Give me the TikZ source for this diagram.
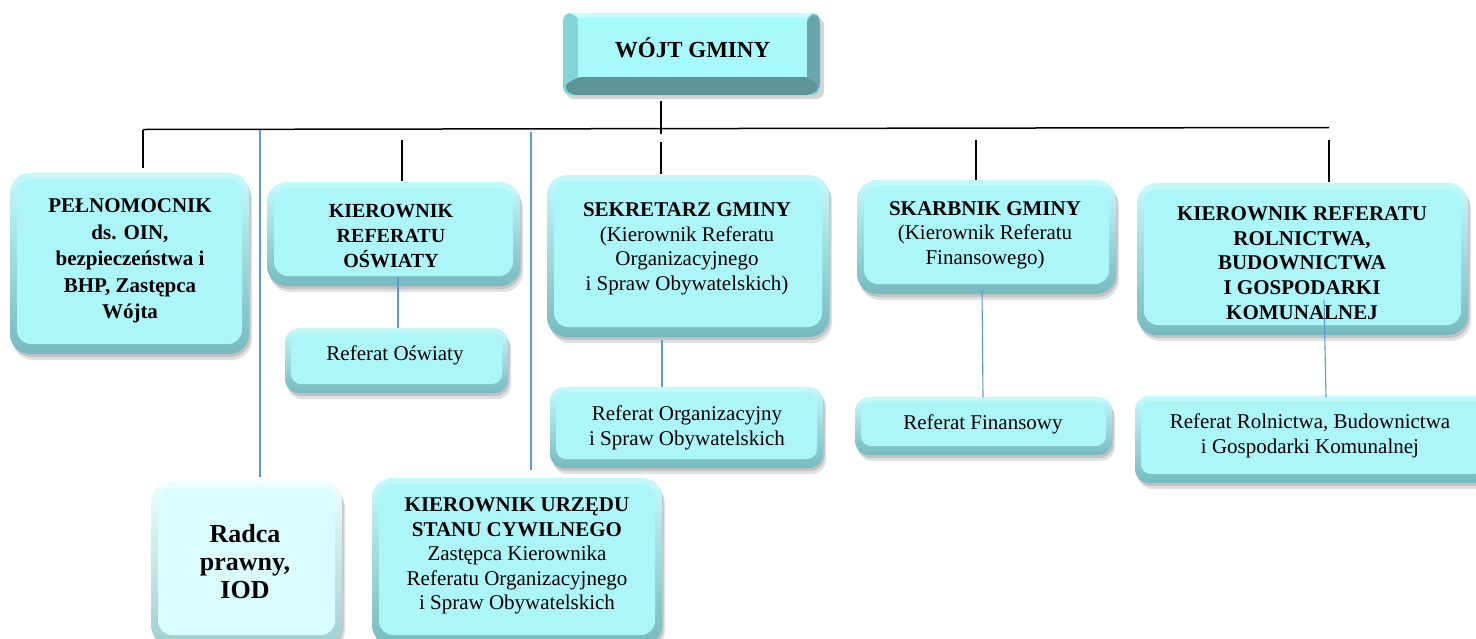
\documentclass[tikz,border=0pt]{standalone}
\usepackage{fontspec}
\setmainfont{Liberation Serif}
\definecolor{facec}{RGB}{172,245,249}
\definecolor{edgeT}{RGB}{196,250,252}
\definecolor{edgeB}{RGB}{118,186,191}
\definecolor{facel}{RGB}{218,252,253}
\definecolor{edgeTl}{RGB}{236,254,254}
\definecolor{edgeBl}{RGB}{160,208,211}
\definecolor{shadowc}{RGB}{90,90,90}
\definecolor{bluel}{RGB}{91,155,213}
\definecolor{wface}{RGB}{168,249,251}
\definecolor{wtop}{RGB}{196,252,253}
\definecolor{wleft}{RGB}{128,214,219}
\definecolor{wright}{RGB}{104,166,171}
\definecolor{wbot}{RGB}{92,148,153}
\begin{document}
\begin{tikzpicture}[x=1pt,y=-1pt,
  gbox/.style={rectangle, rounded corners=20pt, inner sep=0pt, outer sep=0pt,
    top color=edgeT, bottom color=edgeB,
    preaction={fill=shadowc, fill opacity=0.18, transform canvas={shift={(3pt,-6pt)}}},
    preaction={fill=shadowc, fill opacity=0.22, transform canvas={shift={(1.5pt,-3pt)}}},
    path picture={\fill[facec, rounded corners=14pt]
      ([shift={(7pt,-6pt)}]path picture bounding box.north west) rectangle
      ([shift={(-7pt,10pt)}]path picture bounding box.south east);}},
  sbox/.style={gbox, rounded corners=14pt,
    path picture={\fill[facec, rounded corners=10pt]
      ([shift={(6pt,-5pt)}]path picture bounding box.north west) rectangle
      ([shift={(-6pt,9pt)}]path picture bounding box.south east);}},
  lbox/.style={gbox, top color=edgeTl, bottom color=edgeBl,
    path picture={\fill[facel, rounded corners=14pt]
      ([shift={(7pt,-6pt)}]path picture bounding box.north west) rectangle
      ([shift={(-7pt,10pt)}]path picture bounding box.south east);}},
  txt/.style={align=center, inner sep=0pt, font=\fontsize{21}{24.5}\selectfont},
  btxt/.style={txt, font=\fontsize{21}{24.5}\selectfont\bfseries},
  bline/.style={line width=1.5pt, black},
  blline/.style={line width=1.1pt, bluel}]
\useasboundingbox (0,0) rectangle (1476,638);
\clip (0,0) rectangle (1476,638);
\fill[white] (0,0) rectangle (1476,638);

% ---- WOJT bevel box
\fill[shadowc, fill opacity=0.25, rounded corners=8pt] (566,17) rectangle (824,99);
\fill[wleft, rounded corners=8pt] (563,13) rectangle (820,95);
\fill[wtop] (570,13) -- (813,13) -- (807,18) -- (578,18) -- cycle;
\fill[wright, rounded corners=6pt] (807,18) -- (816,13) -- (820,20) -- (820,88) -- (812,95) -- (800,85) -- cycle;
\fill[wbot, rounded corners=6pt] (563,86) -- (578,77) -- (807,77) -- (820,86) -- (812,95) -- (571,95) -- cycle;
\node[rectangle, fill=wface, minimum width=229pt, minimum height=59pt, inner sep=0pt,
  font=\fontsize{23}{27}\selectfont\bfseries] (wojt) at (692.5,47.5) {WÓJT GMINY};

% ---- boxes
\node[gbox, minimum width=239pt, minimum height=181pt] (pel) at (129.5,263.5) {};
\node[gbox, minimum width=253pt, minimum height=104pt] (kos) at (393.5,234) {};
\node[sbox, minimum width=223pt, minimum height=65pt] (ros) at (396.5,360.5) {};
\node[gbox, minimum width=282pt, minimum height=162pt] (sek) at (688,256) {};
\node[sbox, minimum width=273pt, minimum height=81pt] (rorg) at (686.5,427.5) {};
\node[gbox, minimum width=259pt, minimum height=114pt] (ska) at (986.5,237) {};
\node[sbox, minimum width=257pt, minimum height=58pt] (rfin) at (983.5,426) {};
\node[gbox, minimum width=331pt, minimum height=152pt] (krr) at (1302.5,259) {};
\node[sbox, minimum width=355pt, minimum height=87pt] (rrol) at (1312.5,439.5) {};
\node[lbox, minimum width=191pt, minimum height=163pt] (radca) at (246.5,563.5) {};
\node[gbox, minimum width=290pt, minimum height=167pt] (usc) at (517,561.5) {};

% ---- texts
\node[btxt, font=\fontsize{21}{26.5}\selectfont\bfseries] (tpel) at (130,261) {PEŁNOMOCNIK\\ds. OIN,\\bezpieczeństwa i\\BHP, Zastępca\\Wójta};
\node[btxt, font=\fontsize{20}{25}\selectfont\bfseries] (tkos) at (391,236) {KIEROWNIK\\REFERATU\\OŚWIATY};
\node[txt] (tros) at (395,355) {Referat Oświaty};
\node[txt] (tsek) at (687,249) {\textbf{SEKRETARZ GMINY}\\(Kierownik Referatu\\Organizacyjnego\\i Spraw Obywatelskich)};
\node[txt] (trorg) at (687,428) {Referat Organizacyjny\\i Spraw Obywatelskich};
\node[txt] (tska) at (985,235) {\textbf{SKARBNIK GMINY}\\(Kierownik Referatu\\Finansowego)};
\node[txt] (trfin) at (983,424) {Referat Finansowy};
\node[btxt, font=\fontsize{21}{24.75}\selectfont\bfseries] (tkrr) at (1302,263) {KIEROWNIK REFERATU\\ROLNICTWA,\\BUDOWNICTWA\\ I GOSPODARKI\\KOMUNALNEJ};
\node[txt] (trrol) at (1310,436) {Referat Rolnictwa, Budownictwa\\ i Gospodarki Komunalnej};
\node[btxt, font=\fontsize{26}{28}\selectfont\bfseries] (tradca) at (245,562) {Radca\\prawny,\\IOD};
\node[txt] (tusc) at (517,556) {\textbf{KIEROWNIK URZĘDU}\\\textbf{STANU CYWILNEGO}\\Zastępca Kierownika\\Referatu Organizacyjnego\\i Spraw Obywatelskich};

% ---- bus and black drops
\coordinate (w0) at (661,101);
\coordinate (w1) at (661,134);
\coordinate (busL) at (143,129.5);
\coordinate (busR) at (1329,127.5);
\coordinate (d1) at (143,129.5);
\coordinate (d2) at (402,140);
\coordinate (d3) at (661,142);
\coordinate (d4) at (976,140);
\coordinate (d5) at (1329,140);
\draw[bline] (w0) -- (w1);
\draw[bline] (busL) -- (busR);
\draw[bline] (d1) -- ([yshift=5pt]d1 |- pel.north);
\draw[bline] (d2) -- ([yshift=1pt]d2 |- kos.north);
\draw[bline] (d3) -- ([yshift=1pt]d3 |- sek.north);
\draw[bline] (d4) -- ([yshift=0pt]d4 |- ska.north);
\draw[bline] (d5) -- ([yshift=1pt]d5 |- krr.north);

% ---- blue connectors
\coordinate (b1) at (260,129.5);
\coordinate (b2) at (531,132);
\draw[blline] (b1) -- ([yshift=5pt]b1 |- radca.north);
\draw[blline] (b2) -- ([yshift=8pt]b2 |- usc.north);
\coordinate (k1) at (398,277);
\draw[blline] (k1) -- (k1 |- ros.north);
\coordinate (s1) at (662,340);
\draw[blline] (s1) -- (s1 |- rorg.north);
\coordinate (f1) at (982,290);
\coordinate (f2) at (983,397);
\draw[blline] (f1) -- (f2);
\coordinate (r1) at (1324,300);
\coordinate (r2) at (1326,397);
\draw[blline] (r1) -- (r2);
\end{tikzpicture}
\end{document}
